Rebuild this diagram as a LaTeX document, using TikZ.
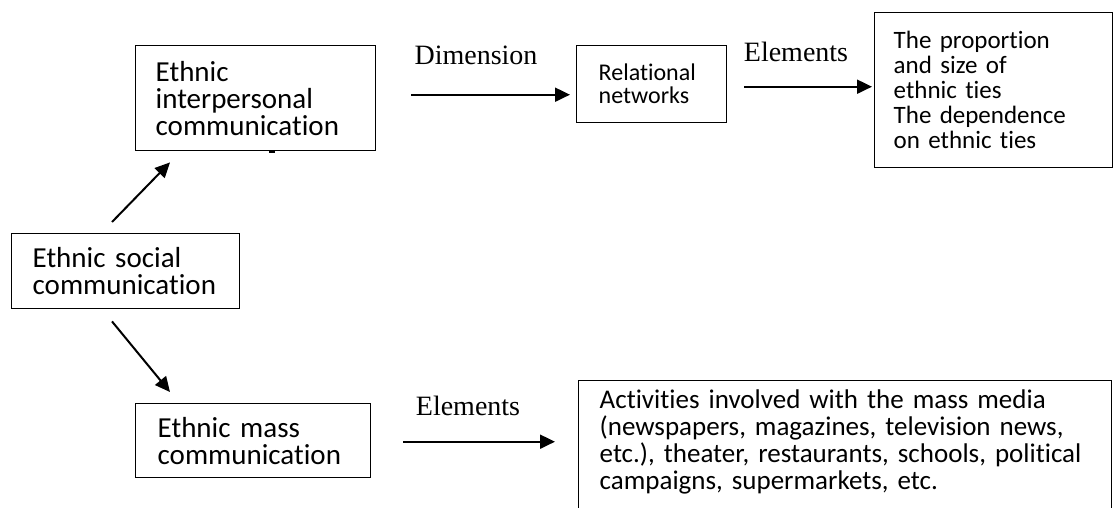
\documentclass[tikz,border=0pt]{standalone}
\usepackage{fontspec}
\setmainfont[Ligatures=NoCommon]{Carlito}
\newfontfamily\labelfont{Liberation Serif}
\usetikzlibrary{arrows.meta,calc}
\begin{document}
\begin{tikzpicture}[x=1pt,y=-1pt,
  box/.style={draw, line width=1.4pt, rectangle, anchor=north west, align=left, inner ysep=0pt},
  bigtext/.style={font=\fontsize{29}{27}\selectfont},
  link/.style={line width=2pt, -{Triangle[length=15pt,width=14pt]}},
  tag/.style={font=\labelfont\fontsize{28}{30}\selectfont, inner sep=0pt}]
\useasboundingbox (0,0) rectangle (1113,507);

% boxes
\node[box, bigtext, minimum width=240pt, minimum height=105pt, text width=200pt, inner xsep=20pt]
  (inter) at (135,45) {Ethnic\\interpersonal\\communication};
\node[box, bigtext, minimum width=228pt, minimum height=75pt, text width=186pt, inner xsep=21pt]
  (social) at (11,233) {Ethnic social\\communication};
\node[box, bigtext, minimum width=235pt, minimum height=74pt, text width=191pt, inner xsep=22pt]
  (mass) at (135,403) {Ethnic mass\\communication};
\node[box, font=\fontsize{24}{23}\selectfont, minimum width=150pt, minimum height=77pt, text width=106pt, inner xsep=22pt]
  (rel) at (576,45) {Relational\\networks};
\node[box, font=\fontsize{25}{25}\selectfont, minimum width=238pt, minimum height=155pt, text width=200pt, inner xsep=19pt]
  (ties) at (874,12) {The proportion\\and size of\\ethnic ties\\The dependence\\on ethnic ties};
\node[box, font=\fontsize{27}{27}\selectfont, minimum width=533pt, text width=491pt, inner xsep=21pt, inner ysep=9pt]
  (media) at (578,380) {Activities involved with the mass media\\(newspapers, magazines, television news,\\etc.), theater, restaurants, schools, political\\campaigns, supermarkets, etc.\\ \mbox{}};

% small mark on the lower edge of the interpersonal box
\fill ($(inter.south west)+(134,-0.7)$) rectangle ++(6,2.5);

% arrow labels
\node[tag] (dim) at (476,55) {Dimension};
\node[tag] (elem1) at (796,52) {Elements};
\node[tag] (elem2) at (468,406) {Elements};

% connectors
\draw[link, shorten >=6pt] ($(inter.east)+(35,-3.5)$) coordinate (s1) -- (s1 -| rel.west);
\draw[link, shorten >=2pt] ($(rel.east)+(17,2.5)$) coordinate (s2) -- (s2 -| ties.west);
\draw[link] ($(social.north west)+(101,-11)$) -- ($(inter.south west)+(35,11)$);
\draw[link] ($(social.south west)+(101,12)$) -- ($(mass.north west)+(35,-11)$);
\draw[link, shorten >=23pt] ($(mass.east)+(32,1)$) coordinate (s3) -- (s3 -| media.west);
\end{tikzpicture}
\end{document}
